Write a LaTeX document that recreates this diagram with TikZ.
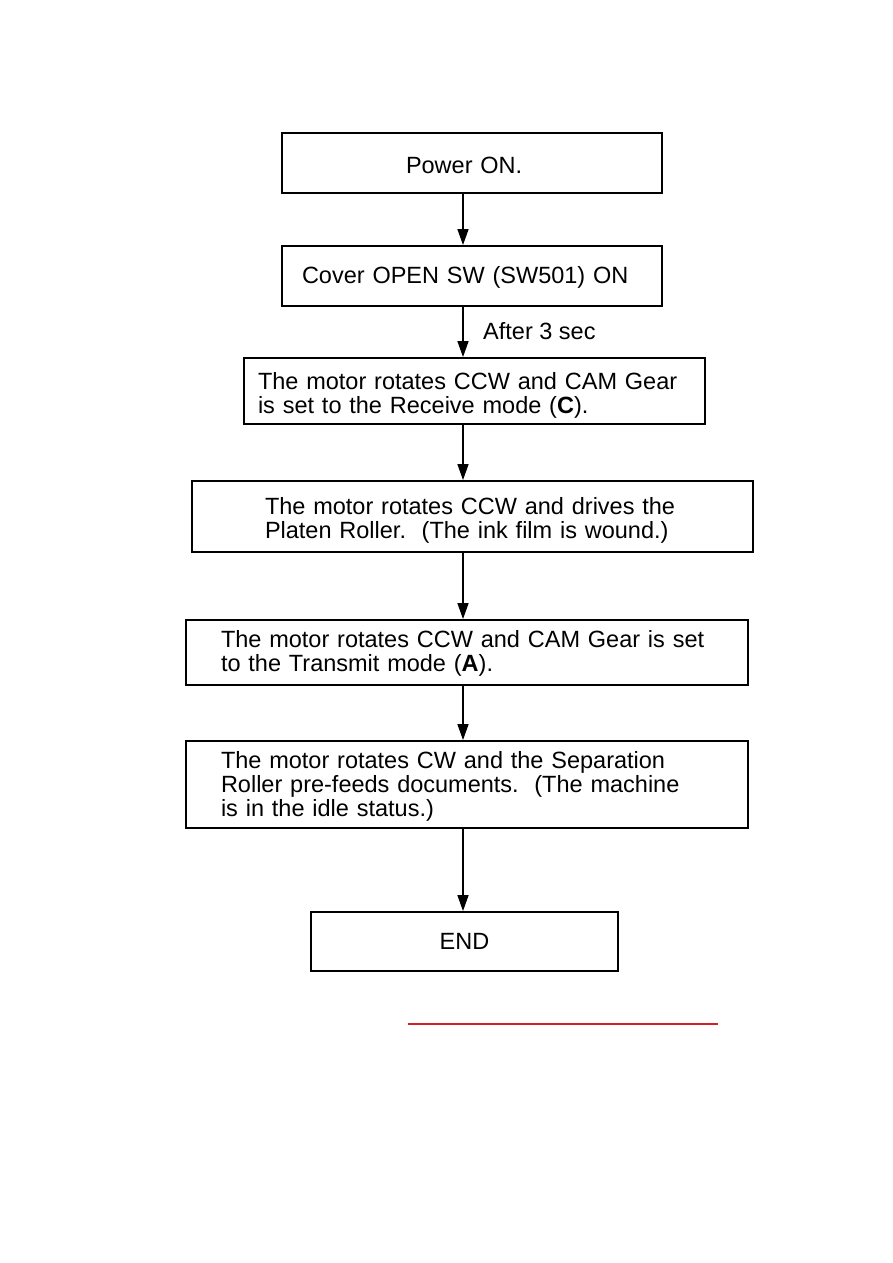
\documentclass[tikz,border=0pt]{standalone}
\usepackage{fontspec}
\setmainfont{Liberation Sans}
\usetikzlibrary{arrows.meta}
\definecolor{linkred}{RGB}{212,32,32}
\newcommand{\dn}[1]{\rule{0pt}{#1}}
\begin{document}
\begin{tikzpicture}[x=1pt,y=-1pt,
  box/.style={draw=black,line width=1.9pt,rectangle,font=\fontsize{23.5}{24}\selectfont,align=left,inner ysep=0pt},
  arr/.style={line width=1.6pt,-{Triangle[length=16pt,width=11pt]}},
  lbl/.style={font=\fontsize{23.5}{24}\selectfont,inner sep=0pt}]
\useasboundingbox (0,0) rectangle (893,1263);
\coordinate (ax) at (463,0);
\node[box,minimum width=380pt,minimum height=60pt,inner xsep=124pt,text width=132pt] (b1) at (472,163) {\dn{21pt}Power ON.};
\node[box,minimum width=380pt,minimum height=60pt,inner xsep=20pt,text width=340pt] (b2) at (472,276) {\dn{19pt}Cover OPEN SW (SW501) ON};
\node[box,minimum width=461pt,minimum height=66pt,inner xsep=14pt,text width=433pt] (b3) at (474.5,391) {\dn{25pt}The motor rotates CCW and CAM Gear\\is set to the Receive mode (\textbf{C}).};
\node[box,minimum width=561pt,minimum height=71pt,inner xsep=73pt,text width=415pt] (b4) at (472.5,516.5) {\dn{25pt}The motor rotates CCW and drives the\\Platen Roller.\ \ (The ink film is wound.)};
\node[box,minimum width=562pt,minimum height=65pt,inner xsep=35pt,text width=492pt] (b5) at (467,652.5) {\dn{19pt}The motor rotates CCW and CAM Gear is set\\to the Transmit mode (\textbf{A}).};
\node[box,minimum width=562pt,minimum height=87pt,inner xsep=35pt,text width=492pt] (b6) at (467,784.5) {\dn{21pt}The motor rotates CW and the Separation\\Roller pre-feeds documents.\ \ (The machine\\is in the idle status.)};
\node[box,minimum width=307pt,minimum height=59pt,align=center] (b7) at (464.5,941.5) {END};
\draw[arr] (ax |- b1.south) -- (ax |- b2.north);
\draw[arr] (ax |- b2.south) -- (ax |- b3.north);
\draw[arr] (ax |- b3.south) -- (ax |- b4.north);
\draw[arr] (ax |- b4.south) -- (ax |- b5.north);
\draw[arr] (ax |- b5.south) -- (ax |- b6.north);
\draw[arr] (ax |- b6.south) -- (ax |- b7.north);
\node[lbl,anchor=west] (after) at (483,331) {After 3 sec};
\coordinate (r1) at (408,1024);
\coordinate (r2) at (718,1024);
\draw[linkred,line width=1.4pt] (r1) -- (r2);
\end{tikzpicture}
\end{document}
